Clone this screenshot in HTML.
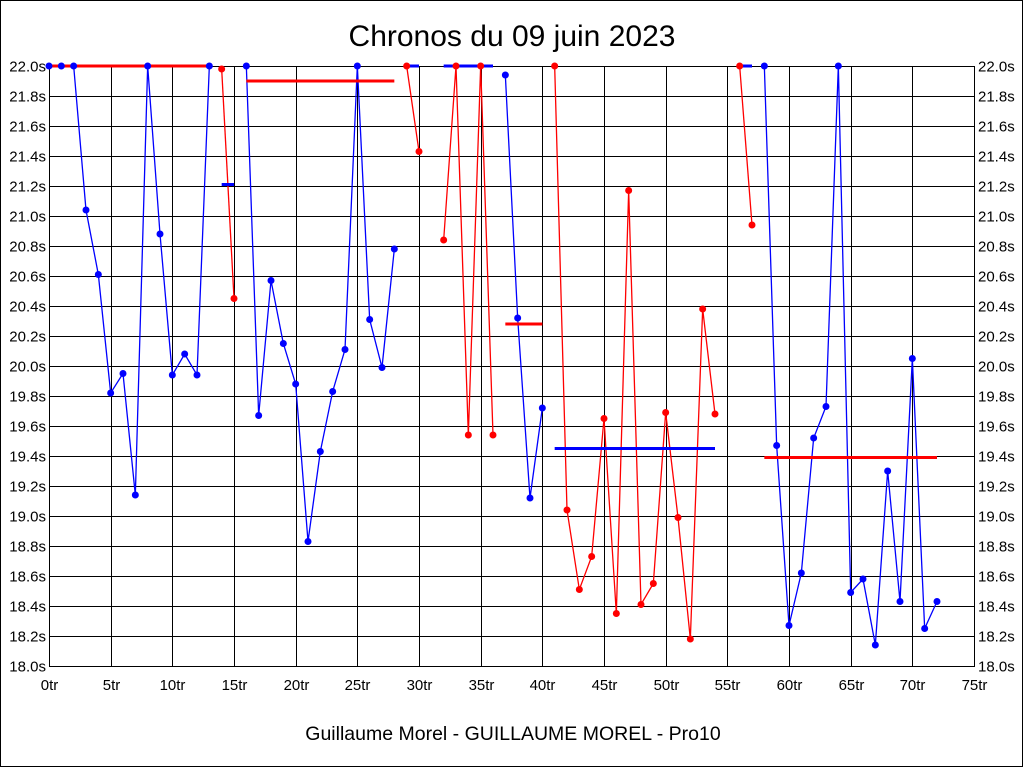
<!DOCTYPE html>
<html><head><meta charset="utf-8"><style>
html,body{margin:0;padding:0;background:#fff;}
svg{display:block;font-family:"Liberation Sans",sans-serif;}
</style></head><body>
<svg id="c" width="1024" height="768" xmlns="http://www.w3.org/2000/svg">
<rect x="0.5" y="0.5" width="1022" height="766" fill="#fff" stroke="#000"/>
<text x="512" y="46" font-size="30" text-anchor="middle">Chronos du 09 juin 2023</text>
<text x="513" y="740" font-size="19.5" text-anchor="middle">Guillaume Morel - GUILLAUME MOREL - Pro10</text>
<g id="grid"></g><g id="marks"></g>
</svg>
<script>
const xTicks = [0,5,10,15,20,25,30,35,40,45,50,55,60,65,70,75];
const yTicks = [18.0,18.2,18.4,18.6,18.8,19.0,19.2,19.4,19.6,19.8,20.0,20.2,20.4,20.6,20.8,21.0,21.2,21.4,21.6,21.8,22.0];
const segColors = ["blue","red","blue","red","red","blue","red","red","blue"];
const segLaps = [
 [0,1,2,3,4,5,6,7,8,9,10,11,12,13],
 [14,15],
 [16,17,18,19,20,21,22,23,24,25,26,27,28],
 [29,30],
 [32,33,34,35,36],
 [37,38,39,40],
 [41,42,43,44,45,46,47,48,49,50,51,52,53,54],
 [56,57],
 [58,59,60,61,62,63,64,65,66,67,68,69,70,71,72]
];
const segTimes = [
 [22.0,22.0,22.0,21.04,20.61,19.82,19.95,19.14,22.0,20.88,19.94,20.08,19.94,22.0],
 [21.98,20.45],
 [22.0,19.67,20.57,20.15,19.88,18.83,19.43,19.83,20.11,22.0,20.31,19.99,20.78],
 [22.0,21.43],
 [20.84,22.0,19.54,22.0,19.54],
 [21.94,20.32,19.12,19.72],
 [22.0,19.04,18.51,18.73,19.65,18.35,21.17,18.41,18.55,19.69,18.99,18.18,20.38,19.68],
 [22.0,20.94],
 [22.0,19.47,18.27,18.62,19.52,19.73,22.0,18.49,18.58,18.14,19.30,18.43,20.05,18.25,18.43]
];
const segAverages = [22.0,21.21,21.9,22.0,22.0,20.28,19.45,22.0,19.39];

const L=49,R=974,T=66,B=666;
const xs=v=>L+(v-0)/75*(R-L);
const ys=v=>B-(v-18)/4*(B-T);
const NS="http://www.w3.org/2000/svg";
function mk(tag,attrs,parent){const e=document.createElementNS(NS,tag);for(const k in attrs)e.setAttribute(k,attrs[k]);parent.appendChild(e);return e;}
const grid=document.getElementById('grid'), marks=document.getElementById('marks');
yTicks.forEach(v=>{
 const y=Math.round(ys(v))+0.5;
 const l=mk('line',{x1:L,x2:R,y1:y,y2:y,stroke:'#000','stroke-width':1},grid);
 
 
 const t1=mk('text',{x:L-3,y:y+5,'font-size':15,'text-anchor':'end'},grid);
 t1.textContent=v.toFixed(1)+'s';
 
 
 const t2=mk('text',{x:R+4,y:y+5,'font-size':15},grid);
 t2.textContent=v.toFixed(1)+'s';
 
 
});
xTicks.forEach(v=>{
 const x=Math.round(xs(v))+0.5;
 const l=mk('line',{x1:x,x2:x,y1:T,y2:B,stroke:'#000','stroke-width':1},grid);
 
 
 const t=mk('text',{x:x,y:B+24,'font-size':15,'text-anchor':'middle'},grid);
 t.textContent=v+'tr';
 
 
});
segLaps.forEach((laps,i)=>{
 const col=segColors[i], other=col==='blue'?'red':'blue';
 const times=segTimes[i];
 const pts=laps.map((l,j)=>xs(l)+','+ys(times[j])).join(' ');
 const pl=mk('polyline',{points:pts,fill:'none',stroke:col,'stroke-width':1.3},marks);
 
 
 const a=segAverages[i];
 const al=mk('line',{x1:xs(laps[0]),x2:xs(laps[laps.length-1]),y1:ys(a),y2:ys(a),stroke:other,'stroke-width':3},marks);
 
 
 laps.forEach((l,j)=>{
  const c=mk('circle',{cx:xs(l),cy:ys(times[j]),r:3.5,fill:col},marks);
  
  
 });
});
const fr=mk('rect',{x:L+0.5,y:T+0.5,width:R-L,height:B-T,fill:'none',stroke:'#000'},grid);


</script>
</body></html>
